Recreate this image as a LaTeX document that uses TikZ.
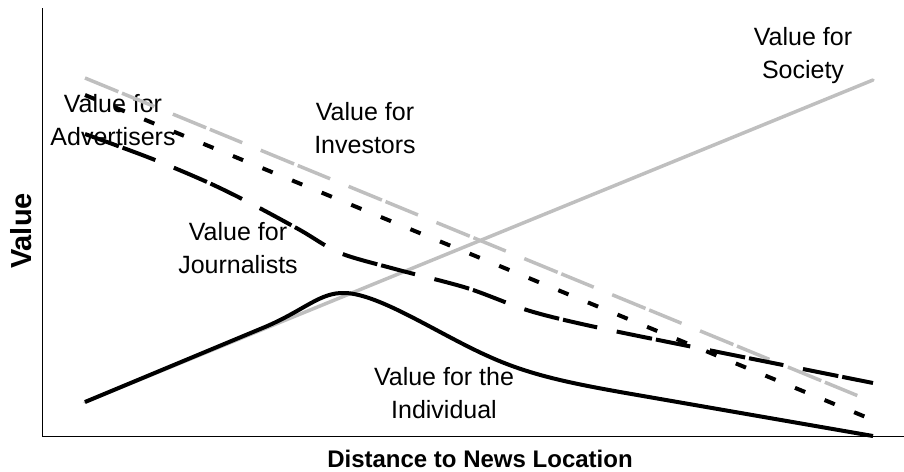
\documentclass[tikz,border=0pt]{standalone}
\usepackage{fontspec}
\setmainfont{Liberation Sans}
\definecolor{lgray}{RGB}{191,191,191}
\begin{document}
\begin{tikzpicture}[x=1pt,y=-1pt,
  lbl/.style={font=\fontsize{25}{33}\selectfont, align=center, inner sep=0pt},
  axlbl/.style={font=\fontsize{24}{28}\selectfont\bfseries, inner sep=0pt},
  ylbl/.style={font=\fontsize{29}{32}\selectfont\bfseries, inner sep=0pt, rotate=90},
  axisline/.style={line width=1pt},
  greyline/.style={draw=lgray, line width=3.5pt},
  blackline/.style={draw=black, line width=4pt},
  longdash/.style={dash pattern=on 36pt off 4pt on 35pt off 20pt},
  shortdash/.style={dash pattern=on 11pt off 21pt}]
\useasboundingbox (0,0) rectangle (904,471);
% axes
\draw[axisline] (42,8) -- (42,436) -- (904,436);
% labels
\node[lbl] (adv) at (113,120) {Value for\\Advertisers};
\node[lbl] (inv) at (365,128) {Value for\\Investors};
\node[lbl] (jou) at (238,248) {Value for\\Journalists};
\node[lbl] (ind) at (444,393) {Value for the\\Individual};
\node[lbl] (soc) at (803,56) {Value for\\Society};
\node[ylbl] (yl) at (21,231) {Value};
\node[axlbl] (xl) at (480,459) {Distance to News Location};
% Society
\draw[greyline, line cap=round] (85,402) -- (873,80);
% Investors
\draw[greyline, longdash] (85,78) -- (873,402);
% Advertisers
\draw[blackline, shortdash] (85,95) -- (873,420);
% Journalists
\draw[blackline, longdash] plot[smooth, tension=0.5] coordinates
  {(85,134) (150,158) (207,182) (250,203) (300,230) (340,253) (395,269) (467,288) (530,311) (600,328) (733,355) (873,383)};
% Individual
\draw[blackline] (85,402) -- (265,327) .. controls (305,310) and (320,292) .. (345,293)
  .. controls (380,294) and (440,335) .. (490,357)
  .. controls (530,375) and (570,383) .. (620,392) -- (873,436);
\end{tikzpicture}
\end{document}
